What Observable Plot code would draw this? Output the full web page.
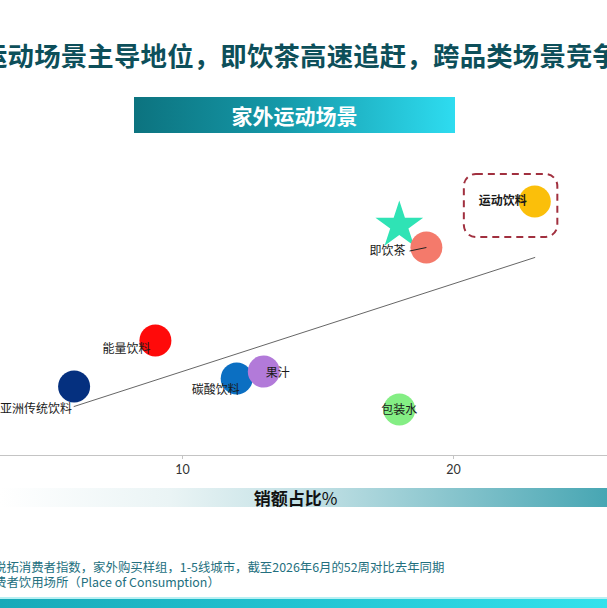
<!DOCTYPE html>
<html>
<head>
<meta charset="utf-8">
<script src="https://cdn.jsdelivr.net/npm/d3@7"></script>
<script src="https://cdn.jsdelivr.net/npm/@observablehq/plot@0.6"></script>
<style>
  html, body { margin: 0; padding: 0; background: #fff; }
  #page { position: relative; width: 607px; height: 608px; overflow: hidden; background: #fff;
          font-family: "Noto Sans CJK SC", "Noto Sans", sans-serif; }
  #title { position: absolute; left: -19px; top: 36px; white-space: nowrap; font-size: 26.4px;
           font-weight: 700; color: #0d4f5a; line-height: 38px; letter-spacing: 0.2px; }
  #banner { position: absolute; left: 134px; top: 97px; width: 321px; height: 36px;
            background: linear-gradient(90deg, #0c737f 0%, #1598a8 45%, #2edcf0 100%);
            color: #fff; font-weight: 700; font-size: 21px; text-align: center; line-height: 36px; }
  #chart { position: absolute; left: 0; top: 140px; }
  #xlabel { position: absolute; left: 0; top: 488px; width: 607px; height: 19px;
            background: linear-gradient(90deg, #ffffff 0%, #eaf4f5 28%, #b9dce1 55%, #47a6b3 100%);
            text-align: center; font-weight: 700; font-size: 17px; line-height: 19px; color: #111; }
  #xlabel span { position: relative; left: -8px; }
  #xlabel b { font-weight: 400; }
  .note { position: absolute; left: -6px; white-space: nowrap; font-size: 12.4px; color: #236f7e; line-height: 15px; }
  #band { position: absolute; left: 0; top: 597px; width: 607px; height: 11px;
          background: linear-gradient(90deg, #17a9b8 0%, #22c4d2 50%, #33e2ec 100%);
          border-top: 2px solid #b8f0f3; box-sizing: border-box; }
</style>
</head>
<body>
<div id="page">
  <div id="title">运动场景主导地位，即饮茶高速追赶，跨品类场景竞争</div>
  <div id="banner">家外运动场景</div>
  <div id="chart"></div>
  <div id="xlabel"><span>销额占比<b>%</b></span></div>
  <div class="note" style="top:560px">悦拓消费者指数，家外购买样组，1-5线城市，截至2026年6月的52周对比去年同期</div>
  <div class="note" style="top:575px">费者饮用场所（Place of Consumption）</div>
  <div id="band"></div>
</div>
<script>
// ---- data ----
const categories = ["运动饮料", "即饮茶", "能量饮料", "亚洲传统饮料", "碳酸饮料", "果汁", "包装水"];
const shareValues = [23, 19, 9, 6, 12, 13, 18];          // 销额占比 %
const growthValues = [25.4, 20.8, 11.5, 6.9, 7.7, 8.4, 4.6]; // vertical measure
const colors = ["#fbbf0a", "#f47a6b", "#ff0a0a", "#05307f", "#0b6fc2", "#b27ad9", "#84ee84"];

const starName = ["即饮茶目标"];
const starShare = [18];
const starGrowth = [23.0];

const trendShare = [6, 23];
const trendGrowth = [4.9, 19.8];

const highlightShare = [20.4, 23.85];
const highlightGrowth = [21.8, 28.1];

const xTicks = [10, 20];

// ---- build tables ----
const points = categories.map((c, i) => ({name: c, x: shareValues[i], y: growthValues[i]}));
const star = starName.map((n, i) => ({name: n, x: starShare[i], y: starGrowth[i]}));
const trend = trendShare.map((x, i) => ({x, y: trendGrowth[i]}));
const box = [{x1: highlightShare[0], x2: highlightShare[1], y1: highlightGrowth[0], y2: highlightGrowth[1]}];

// drawing order: 碳酸 before 果汁
const drawOrder = ["包装水", "亚洲传统饮料", "能量饮料", "碳酸饮料", "果汁", "即饮茶", "运动饮料"];
const ordered = drawOrder.map(n => points.find(p => p.name === n));

const labelStyle = {
  "运动饮料":   {anchor: "end",    dx: -8,   dy: 0,  weight: 700},
  "即饮茶":     {anchor: "end",    dx: -21,  dy: 4,  weight: 400},
  "能量饮料":   {anchor: "end",    dx: -5,   dy: 9,  weight: 400},
  "亚洲传统饮料": {anchor: "end",  dx: -2,   dy: 23, weight: 400},
  "碳酸饮料":   {anchor: "end",    dx: 3,    dy: 12, weight: 400},
  "果汁":       {anchor: "start",  dx: 2,    dy: 2,  weight: 400},
  "包装水":     {anchor: "middle", dx: 0,    dy: 1,  weight: 400}
};
const textMarks = points.map(p => {
  const s = labelStyle[p.name];
  return Plot.text([p], {x: "x", y: "y", text: "name", textAnchor: s.anchor, dx: s.dx, dy: s.dy,
    fontSize: 12, fontWeight: s.weight, fill: "#1a1a1a", fontFamily: "Noto Sans CJK SC"});
});

const tea = points.find(p => p.name === "即饮茶");
const leader = [{x1: tea.x - 0.62, y1: tea.y - 0.35, x2: tea.x, y2: tea.y}];

const x0 = 10 - 182 / 27.1, x1 = 10 + (607 - 182) / 27.1;

const chart = Plot.plot({
  width: 607,
  height: 340,
  marginLeft: 0, marginRight: 0, marginTop: 0, marginBottom: 25,
  style: {fontFamily: "Lato, sans-serif", color: "#333", overflow: "visible", background: "transparent"},
  x: {domain: [x0, x1]},
  y: {domain: [0, 31.5], axis: null},
  color: {domain: categories, range: colors},
  marks: [
    Plot.ruleY([0], {stroke: "#c4c4c4", strokeWidth: 1.2}),
    Plot.axisX({ticks: xTicks, tickSize: 4, tickPadding: 6, fontSize: 12.5, stroke: "#c4c4c4", fill: "#333"}),
    Plot.line(trend, {x: "x", y: "y", stroke: "#555", strokeWidth: 0.9}),
    Plot.rect(box, {x1: "x1", x2: "x2", y1: "y1", y2: "y2", rx: 12, fill: "none",
      stroke: "#a1303f", strokeWidth: 2, strokeDasharray: "7,5"}),
    Plot.dot(star, {x: "x", y: "y", symbol: "star", r: 15, fill: "#2fe3b5", stroke: "none"}),
    Plot.dot(ordered, {x: "x", y: "y", r: 16, fill: "name", stroke: "none"}),
    Plot.link(leader, {x1: "x1", y1: "y1", x2: "x2", y2: "y2", stroke: "#222", strokeWidth: 1}),
    ...textMarks
  ]
});
document.getElementById("chart").appendChild(chart);
</script>
</body>
</html>
